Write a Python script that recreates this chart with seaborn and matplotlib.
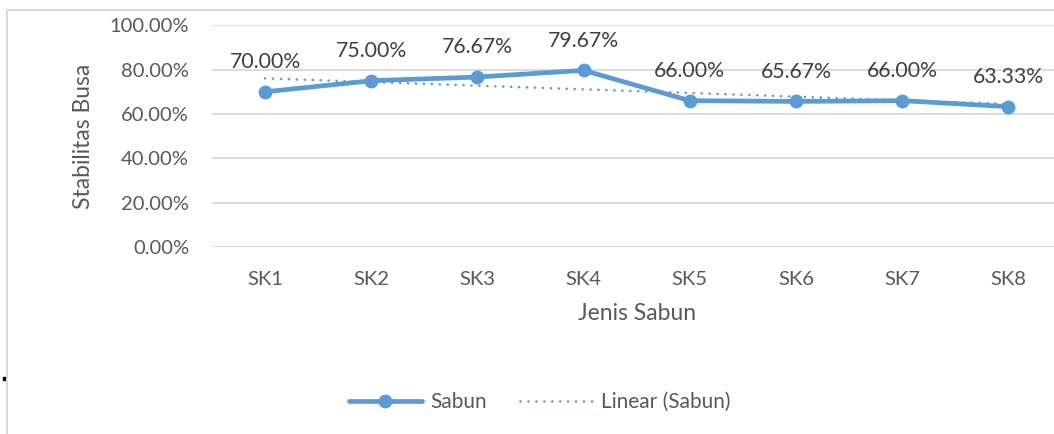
import numpy as np
import pandas as pd
import matplotlib
matplotlib.use("Agg")
import matplotlib.pyplot as plt
import seaborn as sns
from matplotlib.lines import Line2D
from matplotlib.patches import Rectangle

categories = ["SK1", "SK2", "SK3", "SK4", "SK5", "SK6", "SK7", "SK8"]
values = [70.00, 75.00, 76.67, 79.67, 66.00, 65.67, 66.00, 63.33]
yticks = [0, 20, 40, 60, 80, 100]

sns.set_theme(style="white")
plt.rcParams['font.family'] = ['Lato', 'DejaVu Sans']

BLUE = "#5B9BD5"
GRID = "#D9D9D9"
TXT = "#595959"
LBL = "#404040"
FS = 14.5

fig = plt.figure(figsize=(10.54, 4.34), dpi=100)
W, H = 1054, 434
ax = fig.add_axes([212 / W, (H - 247) / H, (1061.4 - 212) / W, (247 - 25.3) / H])

df = pd.DataFrame({"cat": categories, "val": values})
xs = np.arange(1, len(values) + 1)
coef = np.polyfit(xs, values, 1)
df["trend"] = np.polyval(coef, xs)

DOT = (0, (0.01, 3.0))
sns.lineplot(data=df, x="cat", y="trend", ax=ax, color=BLUE, lw=1.9,
             linestyle=DOT, sort=False, zorder=3, dash_capstyle="round")
sns.lineplot(data=df, x="cat", y="val", ax=ax, color=BLUE, lw=3.4,
             marker="o", markersize=10, markeredgewidth=0, sort=False, zorder=4)

for i, v in enumerate(values):
    ax.annotate(f"{v:.2f}%", (i, v), xytext=(0, 21.5), textcoords="offset points",
                ha="center", va="center", fontsize=FS + 0.8, color=LBL)

ax.set_xlim(-0.5, len(categories) - 0.5)
ax.set_ylim(0, 100)
ax.set_yticks(yticks)
ax.set_yticklabels([f"{t:.2f}%" for t in yticks])
ax.yaxis.grid(True, color=GRID, lw=1.3)
ax.xaxis.grid(False)
for s in ax.spines.values():
    s.set_visible(False)
ax.axhline(0, color=GRID, lw=1.3, zorder=1)
ax.tick_params(axis="y", length=0, pad=16.5, labelsize=FS, labelcolor=TXT)
ax.tick_params(axis="x", length=0, pad=17, labelsize=FS, labelcolor=TXT)
ax.set_xlabel("Jenis Sabun", fontsize=FS + 2, color=TXT, labelpad=11)
ax.set_ylabel("Stabilitas Busa", fontsize=FS + 2, color=TXT, labelpad=11)
ax.set_facecolor("none")

handles = [
    Line2D([], [], color=BLUE, lw=3.4, marker="o", markersize=10, markeredgewidth=0),
    Line2D([], [], color=BLUE, lw=1.9, linestyle=DOT, dash_capstyle="round"),
]
fig.legend(handles, ["Sabun", "Linear (Sabun)"], loc="center",
           bbox_to_anchor=(540 / W, 1 - 402 / H), ncol=2, frameon=False,
           fontsize=FS + 0.5, labelcolor=TXT, handlelength=3.5, handletextpad=0.4,
           columnspacing=1.6)

# chart frame (cropped)
fig.add_artist(Line2D([7 / W, 7 / W], [0, 1 - 10 / H], color=GRID, lw=1.5, transform=fig.transFigure))
fig.add_artist(Line2D([7 / W, 1], [1 - 10 / H, 1 - 10 / H], color=GRID, lw=1.5, transform=fig.transFigure))
fig.add_artist(Rectangle((3 / W, 1 - 380 / H), 3 / W, 3 / H, color="black", transform=fig.transFigure))

fig.savefig("out.png", dpi=100)
